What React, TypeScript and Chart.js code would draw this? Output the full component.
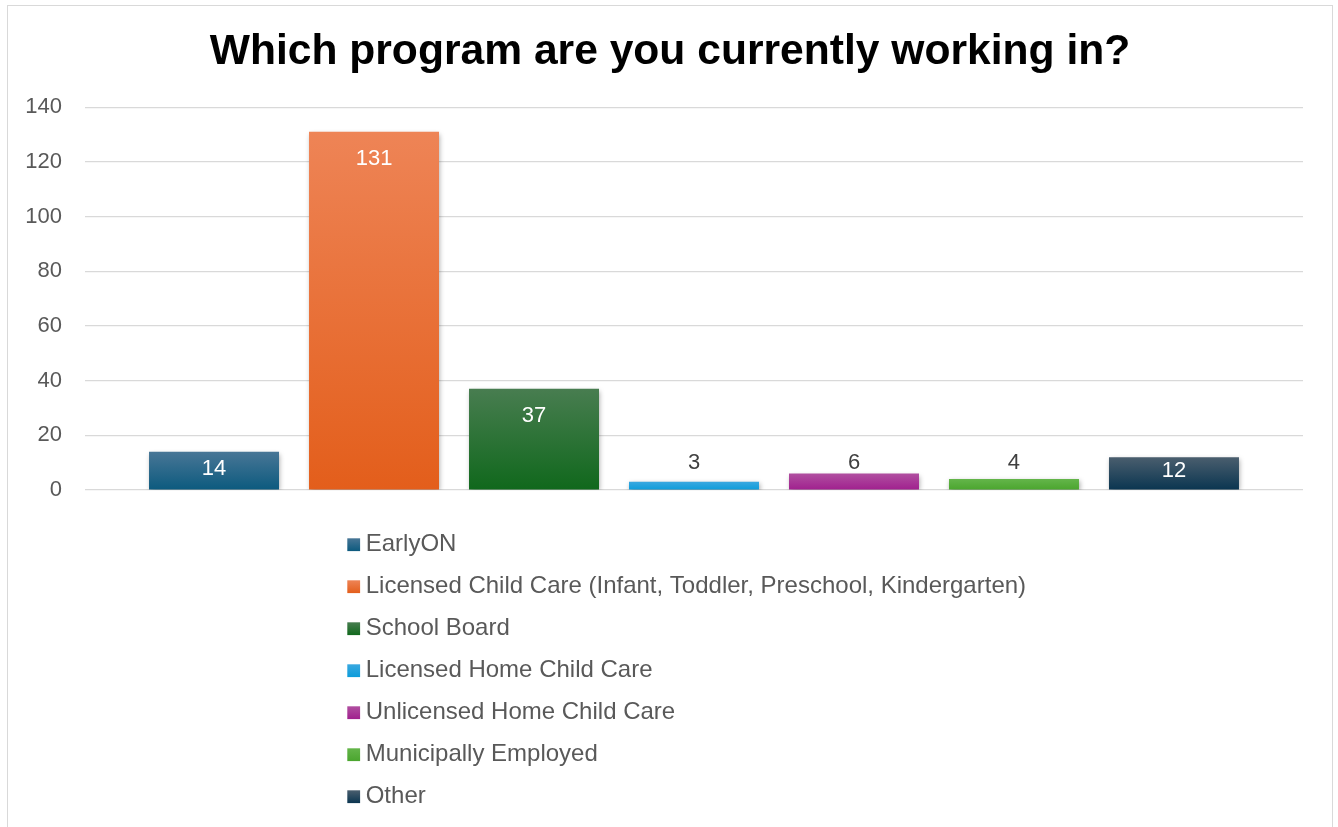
import React, { useEffect, useRef } from "react";
import { Chart, registerables } from "chart.js";

Chart.register(...registerables);

const TITLE = "Which program are you currently working in?";
const CATEGORY_LABELS = [""];
const SERIES_NAMES = [
  "EarlyON",
  "Licensed Child Care (Infant, Toddler, Preschool, Kindergarten)",
  "School Board",
  "Licensed Home Child Care",
  "Unlicensed Home Child Care",
  "Municipally Employed",
  "Other",
];
const SERIES_VALUES = [14, 131, 37, 3, 6, 4, 12];
const COLORS_TOP = ["#487696", "#ee8456", "#487d50", "#3aa8e0", "#b04fa0", "#64b54a", "#4a5e6e"];
const COLORS_BOTTOM = ["#0c5a7e", "#e35e1b", "#10681c", "#0c9cda", "#a0208e", "#4aa52e", "#0a3550"];
const Y_MIN = 0;
const Y_MAX = 140;
const Y_STEP = 20;

const FONT = "'Liberation Sans', Arial, sans-serif";

const barEffects = {
  id: "barEffects",
  beforeDatasetsDraw(chart: any) {
    const ctx = chart.ctx;
    ctx.save();
    ctx.shadowColor = "rgba(0,0,0,0.35)";
    ctx.shadowBlur = 5;
    ctx.shadowOffsetX = 1;
    ctx.shadowOffsetY = 2;
  },
  afterDatasetsDraw(chart: any) {
    const ctx = chart.ctx;
    ctx.restore();
    ctx.save();
    ctx.font = `22px ${FONT}`;
    ctx.textAlign = "center";
    ctx.textBaseline = "middle";
    chart.data.datasets.forEach((ds: any, i: number) => {
      const meta = chart.getDatasetMeta(i);
      const bar: any = meta.data[0];
      if (!bar) return;
      const v = ds.data[0];
      let y: number;
      if (v >= 10) {
        ctx.fillStyle = "#ffffff";
        y = Math.min(bar.y + 27, (bar.y + bar.base) / 2 - 2);
      } else {
        ctx.fillStyle = "#404040";
        y = bar.base - 26;
      }
      ctx.fillText(String(v), bar.x, y);
    });
    ctx.restore();
  },
  afterDraw(chart: any) {
    const ctx = chart.ctx;
    const area = chart.chartArea;
    ctx.save();
    ctx.font = `24px ${FONT}`;
    ctx.textAlign = "left";
    ctx.textBaseline = "middle";
    const startY = area.bottom + 54.7;
    chart.data.datasets.forEach((ds: any, i: number) => {
      const cy = startY + 42 * i;
      const g = ctx.createLinearGradient(0, cy - 6.5, 0, cy + 6.5);
      g.addColorStop(0, COLORS_TOP[i]);
      g.addColorStop(1, COLORS_BOTTOM[i]);
      ctx.fillStyle = g;
      ctx.fillRect(339.3, cy - 6.4, 12.8, 12.8);
      ctx.fillStyle = "#595959";
      ctx.fillText(ds.label, 357.7, cy);
    });
    ctx.restore();
  },
};

export default function App() {
  const canvasRef = useRef<HTMLCanvasElement | null>(null);

  useEffect(() => {
    if (!canvasRef.current) return;
    const datasets = SERIES_NAMES.map((name, i) => ({
      label: name,
      data: [SERIES_VALUES[i]],
      backgroundColor: (c: any) => {
        const chart = c.chart;
        const { chartArea, scales } = chart;
        if (!chartArea || !scales || !scales.y || c.type !== "data") return COLORS_BOTTOM[i];
        const top = scales.y.getPixelForValue(SERIES_VALUES[i]);
        const bottom = scales.y.getPixelForValue(0);
        if (!isFinite(top) || !isFinite(bottom) || top === bottom) return COLORS_BOTTOM[i];
        const g = chart.ctx.createLinearGradient(0, top, 0, bottom);
        g.addColorStop(0, COLORS_TOP[i]);
        g.addColorStop(1, COLORS_BOTTOM[i]);
        return g;
      },
      borderWidth: 0,
      categoryPercentage: 0.9195,
      barPercentage: 0.8125,
    }));

    const chart = new Chart(canvasRef.current, {
      type: "bar",
      data: { labels: CATEGORY_LABELS, datasets },
      options: {
        responsive: false,
        animation: false,
        layout: { padding: { left: 0, right: 0, top: 0, bottom: 346 } },
        plugins: {
          legend: { display: false },
          tooltip: { enabled: false },
          title: {
            display: true,
            text: TITLE,
            color: "#000000",
            font: { family: FONT, size: 42.6, weight: "bold", lineHeight: 1.2 },
            padding: { top: 21, bottom: 29 },
          },
        },
        scales: {
          x: { display: false },
          y: {
            min: Y_MIN,
            max: Y_MAX,
            afterFit: (scale: any) => {
              scale.width = 77;
            },
            ticks: {
              stepSize: Y_STEP,
              padding: 23,
              color: "#595959",
              font: { family: FONT, size: 22 },
            },
            grid: { color: "#d9d9d9", lineWidth: 1.2, drawTicks: false },
            border: { display: false },
          },
          yRight: {
            type: "linear",
            position: "right",
            display: true,
            min: 0,
            max: 1,
            afterFit: (scale: any) => {
              scale.width = 29;
            },
            ticks: { display: false },
            grid: { display: false, drawTicks: false },
            border: { display: false },
          },
        },
      },
      plugins: [barEffects],
    });
    return () => chart.destroy();
  }, []);

  return (
    <div
      style={{
        position: "fixed",
        left: 7,
        top: 5,
        width: 1324,
        height: 840,
        border: "1px solid #d9d9d9",
        background: "#ffffff",
      }}
    >
      <canvas ref={canvasRef} width={1324} height={830} style={{ display: "block" }} />
    </div>
  );
}
